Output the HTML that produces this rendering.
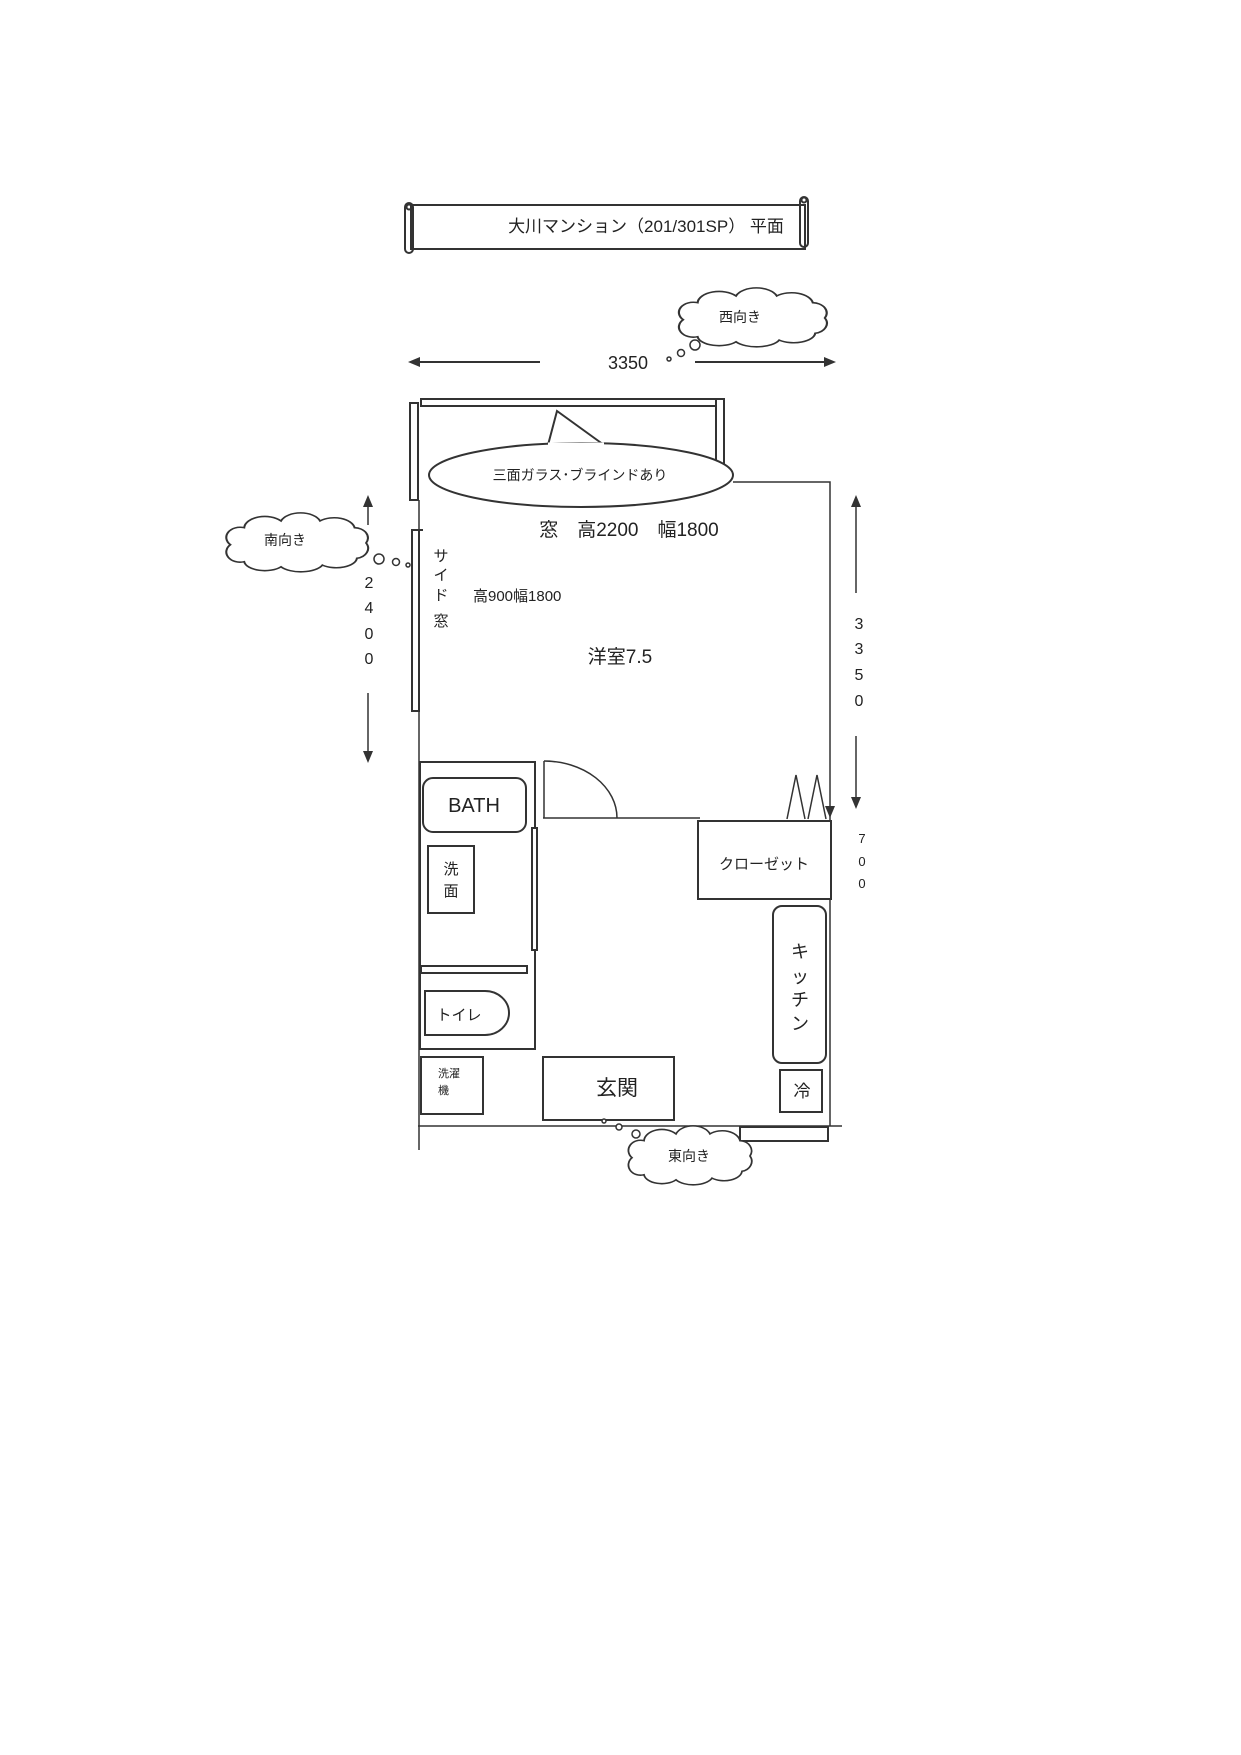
<!DOCTYPE html>
<html><head><meta charset="utf-8"><style>
html,body{margin:0;padding:0;background:#fff}
svg{display:block}
text{font-family:"Liberation Sans","Noto Sans CJK JP",sans-serif;fill:#222}
</style></head><body>
<svg width="1241" height="1755" viewBox="0 0 1241 1755" xmlns="http://www.w3.org/2000/svg">
<defs>
<path id="cloud" d="M-64,2 a12,12 0 0 1 12,-20 a18,14 0 0 1 32,-8 a18,14 0 0 1 34,0 a18,14 0 0 1 30,8 a12,12 0 0 1 10,18 a12,12 0 0 1 -8,18 a18,12 0 0 1 -30,8 a20,12 0 0 1 -36,2 a18,12 0 0 1 -32,-6 a12,12 0 0 1 -12,-20 Z" fill="#fff" stroke="#333" stroke-width="1.8"/>
</defs>
<g stroke="#333" stroke-width="2" fill="none">
<rect x="411" y="205" width="394" height="44" fill="#fff"/>
<rect x="405" y="203" width="8" height="50" rx="4"/>
<rect x="800" y="197" width="8" height="50" rx="4"/>
<circle cx="409" cy="207" r="2.5"/><circle cx="804" cy="200" r="2.5"/>
</g>
<text x="646" y="232" font-size="17" text-anchor="middle">大川マンション（201/301SP） 平面</text>

<use href="#cloud" transform="translate(760,318) scale(1.2,0.85)"/>
<text x="740" y="322" font-size="14" text-anchor="middle">西向き</text>
<g fill="#fff" stroke="#333" stroke-width="1.5">
<circle cx="669" cy="359" r="2"/><circle cx="681" cy="353" r="3.5"/><circle cx="695" cy="345" r="5"/>
</g>

<g stroke="#333" stroke-width="2">
<line x1="418" y1="362" x2="540" y2="362"/>
<line x1="695" y1="362" x2="826" y2="362"/>
</g>
<polygon points="408,362 420,357 420,367" fill="#333"/>
<polygon points="836,362 824,357 824,367" fill="#333"/>
<text x="628" y="369" font-size="18" text-anchor="middle">3350</text>

<g stroke="#333" stroke-width="1.5" fill="none">
<line x1="419" y1="500" x2="419" y2="1150"/>
<polyline points="733,482 830,482 830,1126"/>
<line x1="418" y1="1126" x2="842" y2="1126"/>
</g>
<g stroke="#333" stroke-width="2" fill="#fff">
<rect x="421" y="399" width="295" height="7"/>
<rect x="716" y="399" width="8" height="72"/>
<rect x="410" y="403" width="8" height="97"/>
<rect x="412" y="530" width="7" height="181"/>
<rect x="740" y="1127" width="88" height="14"/>
</g>
<line x1="419" y1="530" x2="423" y2="530" stroke="#333" stroke-width="2"/>

<path d="M548,445 L557,411 L604,445" fill="#fff" stroke="#333" stroke-width="2"/>
<ellipse cx="581" cy="475" rx="152" ry="32" fill="#fff" stroke="#333" stroke-width="2"/>
<path d="M548,444 L604,444" stroke="#fff" stroke-width="3"/>
<text x="580" y="480" font-size="14" text-anchor="middle">三面ガラス･ブラインドあり</text>

<text x="629" y="536" font-size="19" text-anchor="middle">窓　高2200　幅1800</text>
<g font-size="15" text-anchor="middle">
<text x="441" y="561">サ</text><text x="441" y="580">イ</text><text x="441" y="600">ド</text><text x="441" y="626">窓</text>
</g>
<text x="473" y="601" font-size="15">高900幅1800</text>
<text x="620" y="663" font-size="19" text-anchor="middle">洋室7.5</text>

<use href="#cloud" transform="translate(304,543) scale(1.15,0.85)"/>
<text x="285" y="545" font-size="14" text-anchor="middle">南向き</text>
<g fill="#fff" stroke="#333" stroke-width="1.5">
<circle cx="379" cy="559" r="5"/><circle cx="396" cy="562" r="3.5"/><circle cx="408" cy="565" r="2"/>
</g>

<line x1="368" y1="505" x2="368" y2="525" stroke="#333" stroke-width="1.5"/>
<polygon points="368,495 363,507 373,507" fill="#333"/>
<g font-size="16" text-anchor="middle">
<text x="369" y="588">2</text><text x="369" y="613">4</text><text x="369" y="639">0</text><text x="369" y="664">0</text>
</g>
<line x1="368" y1="693" x2="368" y2="752" stroke="#333" stroke-width="1.5"/>
<polygon points="368,763 363,751 373,751" fill="#333"/>

<line x1="856" y1="505" x2="856" y2="593" stroke="#333" stroke-width="1.5"/>
<polygon points="856,495 851,507 861,507" fill="#333"/>
<g font-size="16" text-anchor="middle">
<text x="859" y="629">3</text><text x="859" y="654">3</text><text x="859" y="680">5</text><text x="859" y="706">0</text>
</g>
<line x1="856" y1="736" x2="856" y2="798" stroke="#333" stroke-width="1.5"/>
<polygon points="856,809 851,797 861,797" fill="#333"/>
<polygon points="830,818 825,806 835,806" fill="#333"/>
<g font-size="13" text-anchor="middle">
<text x="862" y="843">7</text><text x="862" y="866">0</text><text x="862" y="888">0</text>
</g>

<g stroke="#333" stroke-width="2" fill="#fff">
<rect x="420" y="762" width="115" height="287"/>
<rect x="423" y="778" width="103" height="54" rx="10"/>
<rect x="428" y="846" width="46" height="67"/>
<rect x="421" y="966" width="106" height="7"/>
<rect x="532" y="828" width="5" height="122"/>
<path d="M425,991 L485,991 A24,22 0 0 1 485,1035 L425,1035 Z"/>
<rect x="421" y="1057" width="62" height="57"/>
<rect x="543" y="1057" width="131" height="63"/>
<rect x="698" y="821" width="133" height="78"/>
<rect x="773" y="906" width="53" height="157" rx="9"/>
<rect x="780" y="1070" width="42" height="42"/>
</g>
<text x="474" y="812" font-size="20" text-anchor="middle">BATH</text>
<text x="451" y="874" font-size="15" text-anchor="middle">洗</text>
<text x="451" y="896" font-size="15" text-anchor="middle">面</text>
<text x="459" y="1020" font-size="15" text-anchor="middle">トイレ</text>
<text x="438" y="1077" font-size="11">洗濯</text>
<text x="438" y="1094" font-size="11">機</text>
<text x="617" y="1095" font-size="21" text-anchor="middle">玄関</text>
<text x="764" y="869" font-size="15" text-anchor="middle">クローゼット</text>
<g font-size="18" text-anchor="middle">
<text x="800" y="958">キ</text><text x="800" y="983">ッ</text><text x="800" y="1006">チ</text><text x="800" y="1030">ン</text>
</g>
<text x="802" y="1097" font-size="17" text-anchor="middle">冷</text>

<g stroke="#333" stroke-width="1.5" fill="none">
<line x1="544" y1="761" x2="544" y2="818"/>
<line x1="543" y1="818" x2="700" y2="818"/>
<path d="M544,761 A73,57 0 0 1 617,818"/>
<path d="M787,819 L796,775 L805,819"/>
<path d="M808,819 L817,775 L826,819"/>
</g>

<g fill="#fff" stroke="#333" stroke-width="1.5">
<circle cx="604" cy="1121" r="2"/><circle cx="619" cy="1127" r="3"/><circle cx="636" cy="1134" r="4"/>
</g>
<use href="#cloud" transform="translate(696,1156) scale(1.0,0.85)"/>
<text x="689" y="1161" font-size="14" text-anchor="middle">東向き</text>
</svg>
</body></html>
